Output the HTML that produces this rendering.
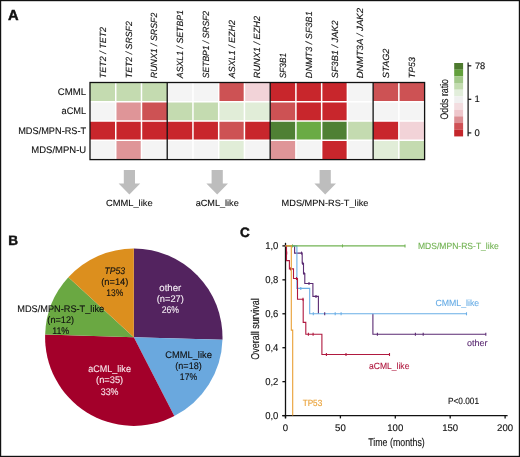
<!DOCTYPE html><html><head><meta charset="utf-8"><style>html,body{margin:0;padding:0;background:#fff;}svg{display:block;will-change:transform;}text{font-family:"Liberation Sans", sans-serif;text-rendering:geometricPrecision;}</style></head><body>
<svg width="520" height="457" viewBox="0 0 520 457">
<rect x="0" y="0" width="520" height="457" fill="#fff"/>
<rect x="90.00" y="82.50" width="25.74" height="19.27" fill="#c4dbb0"/>
<rect x="115.74" y="82.50" width="25.74" height="19.27" fill="#c4dbb0"/>
<rect x="141.48" y="82.50" width="25.74" height="19.27" fill="#c4dbb0"/>
<rect x="167.22" y="82.50" width="25.74" height="19.27" fill="#f4f4f4"/>
<rect x="192.95" y="82.50" width="25.74" height="19.27" fill="#f4f4f4"/>
<rect x="218.69" y="82.50" width="25.74" height="19.27" fill="#cd5254"/>
<rect x="244.43" y="82.50" width="25.74" height="19.27" fill="#f2d3d8"/>
<rect x="270.17" y="82.50" width="25.74" height="19.27" fill="#c8262c"/>
<rect x="295.91" y="82.50" width="25.74" height="19.27" fill="#c8262c"/>
<rect x="321.65" y="82.50" width="25.74" height="19.27" fill="#c8262c"/>
<rect x="347.38" y="82.50" width="25.74" height="19.27" fill="#f4f4f4"/>
<rect x="373.12" y="82.50" width="25.74" height="19.27" fill="#cd5254"/>
<rect x="398.86" y="82.50" width="25.74" height="19.27" fill="#cd5254"/>
<rect x="90.00" y="101.78" width="25.74" height="19.27" fill="#f4f4f4"/>
<rect x="115.74" y="101.78" width="25.74" height="19.27" fill="#df9598"/>
<rect x="141.48" y="101.78" width="25.74" height="19.27" fill="#cd5254"/>
<rect x="167.22" y="101.78" width="25.74" height="19.27" fill="#c4dbb0"/>
<rect x="192.95" y="101.78" width="25.74" height="19.27" fill="#c4dbb0"/>
<rect x="218.69" y="101.78" width="25.74" height="19.27" fill="#e1edd8"/>
<rect x="244.43" y="101.78" width="25.74" height="19.27" fill="#e1edd8"/>
<rect x="270.17" y="101.78" width="25.74" height="19.27" fill="#cd5254"/>
<rect x="295.91" y="101.78" width="25.74" height="19.27" fill="#c8262c"/>
<rect x="321.65" y="101.78" width="25.74" height="19.27" fill="#c8262c"/>
<rect x="347.38" y="101.78" width="25.74" height="19.27" fill="#f4f4f4"/>
<rect x="373.12" y="101.78" width="25.74" height="19.27" fill="#f4f4f4"/>
<rect x="398.86" y="101.78" width="25.74" height="19.27" fill="#f4f4f4"/>
<rect x="90.00" y="121.05" width="25.74" height="19.27" fill="#c8262c"/>
<rect x="115.74" y="121.05" width="25.74" height="19.27" fill="#c8262c"/>
<rect x="141.48" y="121.05" width="25.74" height="19.27" fill="#c8262c"/>
<rect x="167.22" y="121.05" width="25.74" height="19.27" fill="#c8262c"/>
<rect x="192.95" y="121.05" width="25.74" height="19.27" fill="#c8262c"/>
<rect x="218.69" y="121.05" width="25.74" height="19.27" fill="#cd5254"/>
<rect x="244.43" y="121.05" width="25.74" height="19.27" fill="#c8262c"/>
<rect x="270.17" y="121.05" width="25.74" height="19.27" fill="#4f8034"/>
<rect x="295.91" y="121.05" width="25.74" height="19.27" fill="#6aab44"/>
<rect x="321.65" y="121.05" width="25.74" height="19.27" fill="#4f8034"/>
<rect x="347.38" y="121.05" width="25.74" height="19.27" fill="#c4dbb0"/>
<rect x="373.12" y="121.05" width="25.74" height="19.27" fill="#c8262c"/>
<rect x="398.86" y="121.05" width="25.74" height="19.27" fill="#f2d3d8"/>
<rect x="90.00" y="140.32" width="25.74" height="19.27" fill="#f4f4f4"/>
<rect x="115.74" y="140.32" width="25.74" height="19.27" fill="#df9598"/>
<rect x="141.48" y="140.32" width="25.74" height="19.27" fill="#f4f4f4"/>
<rect x="167.22" y="140.32" width="25.74" height="19.27" fill="#f4f4f4"/>
<rect x="192.95" y="140.32" width="25.74" height="19.27" fill="#f4f4f4"/>
<rect x="218.69" y="140.32" width="25.74" height="19.27" fill="#e1edd8"/>
<rect x="244.43" y="140.32" width="25.74" height="19.27" fill="#f4f4f4"/>
<rect x="270.17" y="140.32" width="25.74" height="19.27" fill="#df9598"/>
<rect x="295.91" y="140.32" width="25.74" height="19.27" fill="#f4f4f4"/>
<rect x="321.65" y="140.32" width="25.74" height="19.27" fill="#c8262c"/>
<rect x="347.38" y="140.32" width="25.74" height="19.27" fill="#f4f4f4"/>
<rect x="373.12" y="140.32" width="25.74" height="19.27" fill="#e1edd8"/>
<rect x="398.86" y="140.32" width="25.74" height="19.27" fill="#c4dbb0"/>
<line x1="115.74" y1="82.5" x2="115.74" y2="159.6" stroke="#fff" stroke-width="1.5"/>
<line x1="141.48" y1="82.5" x2="141.48" y2="159.6" stroke="#fff" stroke-width="1.5"/>
<line x1="192.95" y1="82.5" x2="192.95" y2="159.6" stroke="#fff" stroke-width="1.5"/>
<line x1="218.69" y1="82.5" x2="218.69" y2="159.6" stroke="#fff" stroke-width="1.5"/>
<line x1="244.43" y1="82.5" x2="244.43" y2="159.6" stroke="#fff" stroke-width="1.5"/>
<line x1="295.91" y1="82.5" x2="295.91" y2="159.6" stroke="#fff" stroke-width="1.5"/>
<line x1="321.65" y1="82.5" x2="321.65" y2="159.6" stroke="#fff" stroke-width="1.5"/>
<line x1="347.38" y1="82.5" x2="347.38" y2="159.6" stroke="#fff" stroke-width="1.5"/>
<line x1="398.86" y1="82.5" x2="398.86" y2="159.6" stroke="#fff" stroke-width="1.5"/>
<line x1="90.0" y1="101.78" x2="424.6" y2="101.78" stroke="#fff" stroke-width="1.5"/>
<line x1="90.0" y1="121.05" x2="424.6" y2="121.05" stroke="#fff" stroke-width="1.5"/>
<line x1="90.0" y1="140.32" x2="424.6" y2="140.32" stroke="#fff" stroke-width="1.5"/>
<line x1="167.22" y1="82.5" x2="167.22" y2="159.6" stroke="#111" stroke-width="1.3"/>
<line x1="373.12" y1="82.5" x2="373.12" y2="159.6" stroke="#111" stroke-width="1.3"/>
<line x1="270.17" y1="82.5" x2="270.17" y2="159.6" stroke="#111" stroke-width="1.3"/>
<rect x="90.0" y="82.5" width="334.60" height="77.10" fill="none" stroke="#111" stroke-width="1.3"/>
<text transform="translate(105.97,78.2) rotate(-90)" font-size="9" font-style="italic" fill="#111" textLength="51.3" lengthAdjust="spacingAndGlyphs" stroke="#111" stroke-width="0.12">TET2 / TET2</text>
<text transform="translate(131.71,78.2) rotate(-90)" font-size="9" font-style="italic" fill="#111" textLength="57.0" lengthAdjust="spacingAndGlyphs" stroke="#111" stroke-width="0.12">TET2 / SRSF2</text>
<text transform="translate(157.45,78.2) rotate(-90)" font-size="9" font-style="italic" fill="#111" textLength="65.6" lengthAdjust="spacingAndGlyphs" stroke="#111" stroke-width="0.12">RUNX1 / SRSF2</text>
<text transform="translate(183.18,78.2) rotate(-90)" font-size="9" font-style="italic" fill="#111" textLength="68.2" lengthAdjust="spacingAndGlyphs" stroke="#111" stroke-width="0.12">ASXL1 / SETBP1</text>
<text transform="translate(208.92,78.2) rotate(-90)" font-size="9" font-style="italic" fill="#111" textLength="67.3" lengthAdjust="spacingAndGlyphs" stroke="#111" stroke-width="0.12">SETBP1 / SRSF2</text>
<text transform="translate(234.66,78.2) rotate(-90)" font-size="9" font-style="italic" fill="#111" textLength="58.2" lengthAdjust="spacingAndGlyphs" stroke="#111" stroke-width="0.12">ASXL1 / EZH2</text>
<text transform="translate(260.40,78.2) rotate(-90)" font-size="9" font-style="italic" fill="#111" textLength="62.2" lengthAdjust="spacingAndGlyphs" stroke="#111" stroke-width="0.12">RUNX1 / EZH2</text>
<text transform="translate(286.14,78.2) rotate(-90)" font-size="9" font-style="italic" fill="#111" textLength="25.3" lengthAdjust="spacingAndGlyphs" stroke="#111" stroke-width="0.12">SF3B1</text>
<text transform="translate(311.88,78.2) rotate(-90)" font-size="9" font-style="italic" fill="#111" textLength="66.9" lengthAdjust="spacingAndGlyphs" stroke="#111" stroke-width="0.12">DNMT3 / SF3B1</text>
<text transform="translate(337.62,78.2) rotate(-90)" font-size="9" font-style="italic" fill="#111" textLength="57.7" lengthAdjust="spacingAndGlyphs" stroke="#111" stroke-width="0.12">SF3B1 / JAK2</text>
<text transform="translate(363.35,78.2) rotate(-90)" font-size="9" font-style="italic" fill="#111" textLength="70.3" lengthAdjust="spacingAndGlyphs" stroke="#111" stroke-width="0.12">DNMT3A / JAK2</text>
<text transform="translate(389.09,78.2) rotate(-90)" font-size="9" font-style="italic" fill="#111" textLength="29.7" lengthAdjust="spacingAndGlyphs" stroke="#111" stroke-width="0.12">STAG2</text>
<text transform="translate(414.83,78.2) rotate(-90)" font-size="9" font-style="italic" fill="#111" textLength="21.0" lengthAdjust="spacingAndGlyphs" stroke="#111" stroke-width="0.12">TP53</text>
<text x="86.2" y="94.6" font-size="9.6" text-anchor="end" fill="#111" textLength="28.4" lengthAdjust="spacingAndGlyphs" stroke="#111" stroke-width="0.12">CMML</text>
<text x="86.2" y="114.1" font-size="9.6" text-anchor="end" fill="#111" textLength="24.7" lengthAdjust="spacingAndGlyphs" stroke="#111" stroke-width="0.12">aCML</text>
<text x="86.2" y="133.5" font-size="9.6" text-anchor="end" fill="#111" textLength="68.0" lengthAdjust="spacingAndGlyphs" stroke="#111" stroke-width="0.12">MDS/MPN-RS-T</text>
<text x="86.2" y="152.6" font-size="9.6" text-anchor="end" fill="#111" textLength="54.9" lengthAdjust="spacingAndGlyphs" stroke="#111" stroke-width="0.12">MDS/MPN-U</text>
<rect x="454.2" y="63.00" width="8.9" height="6.72" fill="#4d7a2e"/>
<rect x="454.2" y="69.67" width="8.9" height="6.72" fill="#63a03c"/>
<rect x="454.2" y="76.34" width="8.9" height="6.72" fill="#a3c98a"/>
<rect x="454.2" y="83.01" width="8.9" height="6.72" fill="#c3dcb0"/>
<rect x="454.2" y="89.68" width="8.9" height="6.72" fill="#e2eedb"/>
<rect x="454.2" y="96.35" width="8.9" height="6.72" fill="#f0f0f0"/>
<rect x="454.2" y="103.02" width="8.9" height="6.72" fill="#f3dde0"/>
<rect x="454.2" y="109.69" width="8.9" height="6.72" fill="#eec6cb"/>
<rect x="454.2" y="116.36" width="8.9" height="6.72" fill="#dc8e93"/>
<rect x="454.2" y="123.03" width="8.9" height="6.72" fill="#cf5055"/>
<rect x="454.2" y="129.70" width="8.9" height="6.72" fill="#c4262b"/>
<line x1="468.1" y1="62.4" x2="468.1" y2="136.2" stroke="#111" stroke-width="1.2"/>
<line x1="468.1" y1="65.8" x2="471.3" y2="65.8" stroke="#111" stroke-width="1.2"/>
<line x1="468.1" y1="99.3" x2="471.3" y2="99.3" stroke="#111" stroke-width="1.2"/>
<line x1="468.1" y1="132.9" x2="471.3" y2="132.9" stroke="#111" stroke-width="1.2"/>
<text x="474.9" y="68.9" font-size="9.5" fill="#111" textLength="10.3" lengthAdjust="spacingAndGlyphs" stroke="#111" stroke-width="0.12">78</text>
<text x="474.6" y="102.1" font-size="9.5" fill="#111" stroke="#111" stroke-width="0.12">1</text>
<text x="474.5" y="135.7" font-size="9.5" fill="#111" stroke="#111" stroke-width="0.12">0</text>
<text transform="translate(448.3,119.6) rotate(-90)" font-size="11" fill="#111" textLength="40.6" lengthAdjust="spacingAndGlyphs" stroke="#111" stroke-width="0.12">Odds ratio</text>
<path d="M123.80,169.9 H135.00 V183.5 H140.20 L129.40,194.6 L118.60,183.5 H123.80 Z" fill="#bdbdbd"/>
<path d="M211.60,169.9 H222.80 V183.5 H228.00 L217.20,194.6 L206.40,183.5 H211.60 Z" fill="#bdbdbd"/>
<path d="M319.60,169.9 H330.80 V183.5 H336.00 L325.20,194.6 L314.40,183.5 H319.60 Z" fill="#bdbdbd"/>
<text x="129.3" y="205.8" font-size="9" text-anchor="middle" fill="#111" textLength="46.7" lengthAdjust="spacingAndGlyphs" stroke="#111" stroke-width="0.12">CMML_like</text>
<text x="217.2" y="205.8" font-size="9" text-anchor="middle" fill="#111" textLength="43.1" lengthAdjust="spacingAndGlyphs" stroke="#111" stroke-width="0.12">aCML_like</text>
<text x="325.0" y="206.1" font-size="9" text-anchor="middle" fill="#111" textLength="86.8" lengthAdjust="spacingAndGlyphs" stroke="#111" stroke-width="0.12">MDS/MPN-RS-T_like</text>
<text x="7.9" y="19.9" font-size="14.4" font-weight="bold" fill="#111" stroke="#111" stroke-width="0.45" textLength="10.6" lengthAdjust="spacingAndGlyphs">A</text>
<text x="8.3" y="245.2" font-size="13.6" font-weight="bold" fill="#111" stroke="#111" stroke-width="0.45">B</text>
<text x="240.0" y="237.1" font-size="13.5" font-weight="bold" fill="#111" stroke="#111" stroke-width="0.45">C</text>
<path d="M133.8,337.2 L133.800,248.500 A88.7,88.7 0 0 1 222.461,339.828 Z" fill="#53235f"/>
<path d="M133.8,337.2 L222.461,339.828 A88.7,88.7 0 0 1 174.303,416.113 Z" fill="#6aa8de"/>
<path d="M133.8,337.2 L174.303,416.113 A88.7,88.7 0 0 1 45.139,334.572 Z" fill="#a3002a"/>
<path d="M133.8,337.2 L45.139,334.572 A88.7,88.7 0 0 1 68.354,277.329 Z" fill="#6aa842"/>
<path d="M133.8,337.2 L68.354,277.329 A88.7,88.7 0 0 1 133.800,248.500 Z" fill="#dc8f1e"/>
<text x="114.8" y="273.70" font-size="9.6" text-anchor="middle" fill="#111" font-style="italic" textLength="20.6" lengthAdjust="spacingAndGlyphs" stroke="#111" stroke-width="0.12">TP53</text>
<text x="114.8" y="284.80" font-size="9.6" text-anchor="middle" fill="#111" textLength="27.2" lengthAdjust="spacingAndGlyphs" stroke="#111" stroke-width="0.12">(n=14)</text>
<text x="114.8" y="295.90" font-size="9.6" text-anchor="middle" fill="#111" textLength="16.9" lengthAdjust="spacingAndGlyphs" stroke="#111" stroke-width="0.12">13%</text>
<text x="170.3" y="291.00" font-size="9.6" text-anchor="middle" fill="#f2eaf2" textLength="21.9" lengthAdjust="spacingAndGlyphs" stroke="#f2eaf2" stroke-width="0.12">other</text>
<text x="170.3" y="302.20" font-size="9.6" text-anchor="middle" fill="#f2eaf2" textLength="27.1" lengthAdjust="spacingAndGlyphs" stroke="#f2eaf2" stroke-width="0.12">(n=27)</text>
<text x="170.3" y="313.40" font-size="9.6" text-anchor="middle" fill="#f2eaf2" textLength="17.3" lengthAdjust="spacingAndGlyphs" stroke="#f2eaf2" stroke-width="0.12">26%</text>
<text x="188.5" y="357.70" font-size="9.6" text-anchor="middle" fill="#111" textLength="46.7" lengthAdjust="spacingAndGlyphs" stroke="#111" stroke-width="0.12">CMML_like</text>
<text x="188.5" y="368.95" font-size="9.6" text-anchor="middle" fill="#111" textLength="26.5" lengthAdjust="spacingAndGlyphs" stroke="#111" stroke-width="0.12">(n=18)</text>
<text x="188.5" y="380.20" font-size="9.6" text-anchor="middle" fill="#111" textLength="17.3" lengthAdjust="spacingAndGlyphs" stroke="#111" stroke-width="0.12">17%</text>
<text x="109.6" y="372.20" font-size="9.6" text-anchor="middle" fill="#f8e4ea" textLength="42.6" lengthAdjust="spacingAndGlyphs" stroke="#f8e4ea" stroke-width="0.12">aCML_like</text>
<text x="109.6" y="383.40" font-size="9.6" text-anchor="middle" fill="#f8e4ea" textLength="27.1" lengthAdjust="spacingAndGlyphs" stroke="#f8e4ea" stroke-width="0.12">(n=35)</text>
<text x="109.6" y="394.60" font-size="9.6" text-anchor="middle" fill="#f8e4ea" textLength="17.8" lengthAdjust="spacingAndGlyphs" stroke="#f8e4ea" stroke-width="0.12">33%</text>
<text x="60.7" y="311.50" font-size="9.6" text-anchor="middle" fill="#111" textLength="86.9" lengthAdjust="spacingAndGlyphs" stroke="#111" stroke-width="0.12">MDS/MPN-RS-T_like</text>
<text x="60.7" y="322.50" font-size="9.6" text-anchor="middle" fill="#111" textLength="26.7" lengthAdjust="spacingAndGlyphs" stroke="#111" stroke-width="0.12">(n=12)</text>
<text x="60.7" y="333.50" font-size="9.6" text-anchor="middle" fill="#111" textLength="17.1" lengthAdjust="spacingAndGlyphs" stroke="#111" stroke-width="0.12">11%</text>
<line x1="285.5" y1="242.8" x2="285.5" y2="418.3" stroke="#111" stroke-width="1.3"/>
<line x1="282.3" y1="415.6" x2="507.6" y2="415.6" stroke="#111" stroke-width="1.3"/>
<line x1="282.4" y1="415.60" x2="285.5" y2="415.60" stroke="#111" stroke-width="1.3"/>
<text x="278.4" y="418.80" font-size="10" text-anchor="end" fill="#111" textLength="13.2" lengthAdjust="spacingAndGlyphs" stroke="#111" stroke-width="0.12">0,0</text>
<line x1="282.4" y1="381.66" x2="285.5" y2="381.66" stroke="#111" stroke-width="1.3"/>
<text x="278.4" y="384.86" font-size="10" text-anchor="end" fill="#111" textLength="13.2" lengthAdjust="spacingAndGlyphs" stroke="#111" stroke-width="0.12">0,2</text>
<line x1="282.4" y1="347.72" x2="285.5" y2="347.72" stroke="#111" stroke-width="1.3"/>
<text x="278.4" y="350.92" font-size="10" text-anchor="end" fill="#111" textLength="13.2" lengthAdjust="spacingAndGlyphs" stroke="#111" stroke-width="0.12">0,4</text>
<line x1="282.4" y1="313.78" x2="285.5" y2="313.78" stroke="#111" stroke-width="1.3"/>
<text x="278.4" y="316.98" font-size="10" text-anchor="end" fill="#111" textLength="13.2" lengthAdjust="spacingAndGlyphs" stroke="#111" stroke-width="0.12">0,6</text>
<line x1="282.4" y1="279.84" x2="285.5" y2="279.84" stroke="#111" stroke-width="1.3"/>
<text x="278.4" y="283.04" font-size="10" text-anchor="end" fill="#111" textLength="13.2" lengthAdjust="spacingAndGlyphs" stroke="#111" stroke-width="0.12">0,8</text>
<line x1="282.4" y1="245.90" x2="285.5" y2="245.90" stroke="#111" stroke-width="1.3"/>
<text x="278.4" y="249.10" font-size="10" text-anchor="end" fill="#111" textLength="13.2" lengthAdjust="spacingAndGlyphs" stroke="#111" stroke-width="0.12">1,0</text>
<line x1="285.50" y1="415.6" x2="285.50" y2="418.4" stroke="#111" stroke-width="1.3"/>
<text x="285.50" y="430.9" font-size="9.6" text-anchor="middle" fill="#111" stroke="#111" stroke-width="0.12">0</text>
<line x1="340.40" y1="415.6" x2="340.40" y2="418.4" stroke="#111" stroke-width="1.3"/>
<text x="340.40" y="430.9" font-size="9.6" text-anchor="middle" fill="#111" stroke="#111" stroke-width="0.12">50</text>
<line x1="395.30" y1="415.6" x2="395.30" y2="418.4" stroke="#111" stroke-width="1.3"/>
<text x="395.30" y="430.9" font-size="9.6" text-anchor="middle" fill="#111" stroke="#111" stroke-width="0.12">100</text>
<line x1="450.20" y1="415.6" x2="450.20" y2="418.4" stroke="#111" stroke-width="1.3"/>
<text x="450.20" y="430.9" font-size="9.6" text-anchor="middle" fill="#111" stroke="#111" stroke-width="0.12">150</text>
<line x1="505.10" y1="415.6" x2="505.10" y2="418.4" stroke="#111" stroke-width="1.3"/>
<text x="505.10" y="430.9" font-size="9.6" text-anchor="middle" fill="#111" stroke="#111" stroke-width="0.12">200</text>
<text x="396.5" y="445.5" font-size="11.2" text-anchor="middle" fill="#111" textLength="56.5" lengthAdjust="spacingAndGlyphs" stroke="#111" stroke-width="0.12">Time (months)</text>
<text transform="translate(259.3,329.1) rotate(-90)" font-size="11.3" text-anchor="middle" fill="#111" textLength="61.5" lengthAdjust="spacingAndGlyphs" stroke="#111" stroke-width="0.12">Overall survival</text>
<path d="M285.5,245.9 H294.6 V253.1 H302.2 V263.2 H303.5 V273.5 H304.8 V283.5 H312.9 V296.4 H318.4 V313.8 M372.9,313.8 V334.2 H485.8" fill="none" stroke="#5b2b73" stroke-width="1.1" stroke-linejoin="miter"/>
<line x1="301.5" y1="251.6" x2="301.5" y2="254.6" stroke="#5b2b73" stroke-width="1.1"/>
<line x1="302.6" y1="261.7" x2="302.6" y2="264.7" stroke="#5b2b73" stroke-width="1.1"/>
<line x1="304.0" y1="272.0" x2="304.0" y2="275.0" stroke="#5b2b73" stroke-width="1.1"/>
<line x1="309" y1="282.0" x2="309" y2="285.0" stroke="#5b2b73" stroke-width="1.1"/>
<line x1="316" y1="294.9" x2="316" y2="297.9" stroke="#5b2b73" stroke-width="1.1"/>
<line x1="377.4" y1="332.7" x2="377.4" y2="335.7" stroke="#5b2b73" stroke-width="1.1"/>
<line x1="415.4" y1="332.7" x2="415.4" y2="335.7" stroke="#5b2b73" stroke-width="1.1"/>
<line x1="423.2" y1="332.7" x2="423.2" y2="335.7" stroke="#5b2b73" stroke-width="1.1"/>
<line x1="485.8" y1="332.7" x2="485.8" y2="335.7" stroke="#5b2b73" stroke-width="1.1"/>
<path d="M285.5,245.9 H296.9 V288.4 H309.7 V313.8 H466.5" fill="none" stroke="#6aaee6" stroke-width="1.1" stroke-linejoin="miter"/>
<line x1="324.7" y1="312.3" x2="324.7" y2="315.3" stroke="#5b2b73" stroke-width="1.1"/>
<line x1="300.8" y1="286.9" x2="300.8" y2="289.9" stroke="#6aaee6" stroke-width="1.1"/>
<line x1="313.3" y1="312.3" x2="313.3" y2="315.3" stroke="#6aaee6" stroke-width="1.1"/>
<line x1="335.2" y1="312.3" x2="335.2" y2="315.3" stroke="#6aaee6" stroke-width="1.1"/>
<line x1="341.1" y1="312.3" x2="341.1" y2="315.3" stroke="#6aaee6" stroke-width="1.1"/>
<line x1="466.5" y1="312.3" x2="466.5" y2="315.3" stroke="#6aaee6" stroke-width="1.1"/>
<path d="M285.5,245.9 H405" fill="none" stroke="#72b353" stroke-width="1.1" stroke-linejoin="miter"/>
<line x1="342.5" y1="244.4" x2="342.5" y2="247.4" stroke="#72b353" stroke-width="1.1"/>
<line x1="405" y1="244.4" x2="405" y2="247.4" stroke="#72b353" stroke-width="1.1"/>
<line x1="292.5" y1="244.4" x2="292.5" y2="247.4" stroke="#72b353" stroke-width="1.1"/>
<path d="M285.5,245.9 H286.5 V260.6 H289.4 V268.9 H293.5 V278.5 H297.5 V299.2 H303.2 V322.4 H305.8 V334.2 H321.9 V354.5 H389.5" fill="none" stroke="#b0193f" stroke-width="1.1" stroke-linejoin="miter"/>
<line x1="286.7" y1="251.6" x2="286.7" y2="254.6" stroke="#b0193f" stroke-width="1.1"/>
<line x1="290.5" y1="267.4" x2="290.5" y2="270.4" stroke="#b0193f" stroke-width="1.1"/>
<line x1="296.5" y1="277.0" x2="296.5" y2="280.0" stroke="#b0193f" stroke-width="1.1"/>
<line x1="303" y1="297.7" x2="303" y2="300.7" stroke="#b0193f" stroke-width="1.1"/>
<line x1="308.4" y1="332.7" x2="308.4" y2="335.7" stroke="#b0193f" stroke-width="1.1"/>
<line x1="313.1" y1="332.7" x2="313.1" y2="335.7" stroke="#b0193f" stroke-width="1.1"/>
<line x1="326.4" y1="353.0" x2="326.4" y2="356.0" stroke="#b0193f" stroke-width="1.1"/>
<line x1="346" y1="353.0" x2="346" y2="356.0" stroke="#b0193f" stroke-width="1.1"/>
<line x1="389.5" y1="353.0" x2="389.5" y2="356.0" stroke="#b0193f" stroke-width="1.1"/>
<path d="M285.5,245.9 H291.3 V330.1 H292.7 V415.6" fill="none" stroke="#e9a035" stroke-width="1.1" stroke-linejoin="miter"/>
<text x="418" y="249.3" font-size="9" fill="#72b353" textLength="80.7" lengthAdjust="spacingAndGlyphs" stroke="#72b353" stroke-width="0.12">MDS/MPN-RS-T_like</text>
<text x="435.4" y="306.2" font-size="9" fill="#6aaee6" textLength="43.8" lengthAdjust="spacingAndGlyphs" stroke="#6aaee6" stroke-width="0.12">CMML_like</text>
<text x="466.9" y="346.2" font-size="9" fill="#5b2b73" textLength="20.5" lengthAdjust="spacingAndGlyphs" stroke="#5b2b73" stroke-width="0.12">other</text>
<text x="369" y="368.6" font-size="9" fill="#b0193f" textLength="40.4" lengthAdjust="spacingAndGlyphs" stroke="#b0193f" stroke-width="0.12">aCML_like</text>
<text x="302.7" y="405.8" font-size="9" fill="#e9a035" textLength="19.5" lengthAdjust="spacingAndGlyphs" stroke="#e9a035" stroke-width="0.12">TP53</text>
<text x="448.0" y="403.7" font-size="9.1" fill="#111" textLength="31" lengthAdjust="spacingAndGlyphs" stroke="#111" stroke-width="0.12">P&lt;0.001</text>
<rect x="0.6" y="0.6" width="518.8" height="455.8" fill="none" stroke="#111" stroke-width="1.2"/>
</svg></body></html>
